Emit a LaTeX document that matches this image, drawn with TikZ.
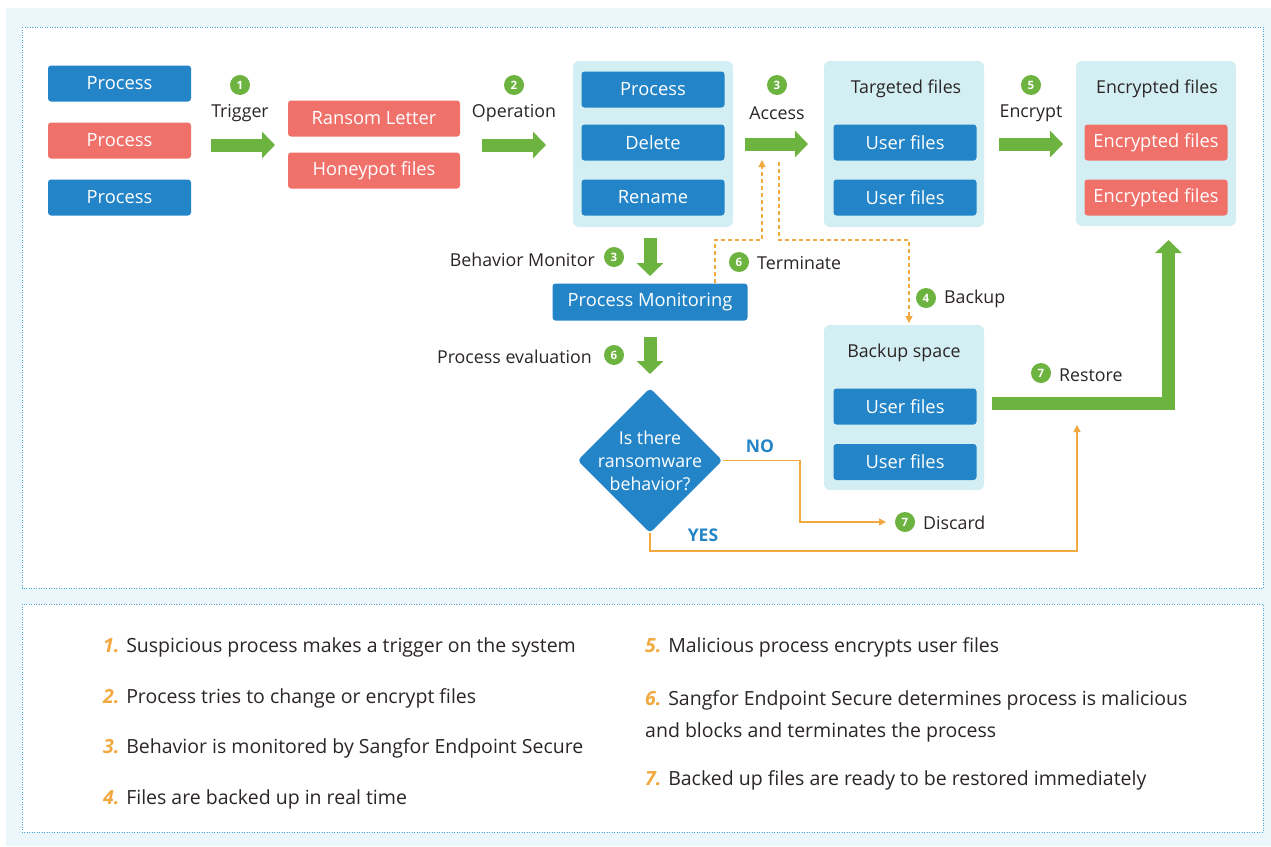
\documentclass[tikz,border=0pt]{standalone}
\usepackage{fontspec}
\setmainfont{Open Sans}
\usetikzlibrary{shapes.geometric,arrows.meta}
\definecolor{bgc}{HTML}{EBF7FA}
\definecolor{dotc}{HTML}{4BA6DD}
\definecolor{bluec}{HTML}{2385C8}
\definecolor{redc}{HTML}{F0706A}
\definecolor{grpc}{HTML}{D3EFF3}
\definecolor{greenc}{HTML}{6DB33F}
\definecolor{orangec}{HTML}{F2A940}
\definecolor{txtc}{HTML}{2B2526}
\newcommand\legn[1]{{\color{orangec}\bfseries\itshape #1}}
\begin{document}
\begin{tikzpicture}[x=1pt,y=-1pt,
 bbox/.style={rounded corners=3pt, minimum width=143pt, minimum height=36pt, inner sep=0pt, text=white, font=\fontsize{18.3}{20}\selectfont},
 bluebox/.style={bbox, fill=bluec},
 redbox/.style={bbox, fill=redc},
 grp/.style={fill=grpc, rounded corners=6pt},
 lbl/.style={text=txtc, font=\fontsize{17.8}{20}\selectfont, inner sep=0pt},
 num/.style={circle, fill=greenc, text=white, inner sep=0pt, minimum size=20pt, font=\fontsize{11.5}{11.5}\bfseries\selectfont},
 fat/.style={draw=greenc, line width=13pt, -{Triangle[width=26pt,length=13pt]}},
 orng/.style={draw=orangec, line width=1.5pt, -{Triangle[width=7pt,length=7pt]}},
 odash/.style={orng, dash pattern=on 4pt off 3pt},
 yn/.style={text=bluec, font=\fontsize{17.5}{20}\bfseries\selectfont, inner sep=0pt},
 leg/.style={text=txtc, font=\fontsize{19.5}{32}\selectfont, inner sep=0pt, align=left},
 panel/.style={fill=white, draw=dotc, line width=1pt, dash pattern=on 1pt off 1.5pt}
]
\useasboundingbox (0,0) rectangle (1271,846);
\fill[white] (0,0) rectangle (1271,846);
\fill[bgc] (6,8) rectangle (1271,846);
\path[panel] (22,27) rectangle (1263,588);
\path[panel] (22,604) rectangle (1263,832);

% column 1
\node[bluebox] (p1) at (119.5,83.5) {Process};
\node[redbox]  (p2) at (119.5,140.5) {Process};
\node[bluebox] (p3) at (119.5,197.5) {Process};

% trigger
\node[num] (n1) at (240,85) {1};
\node[lbl] (ltrig) at (240,113) {Trigger};
\coordinate (a1s) at (211,145); \coordinate (a1e) at (275,145);
\draw[fat] (a1s) -- (a1e);

% ransom
\node[redbox, minimum width=172pt] (rl) at (374,118.5) {Ransom Letter};
\node[redbox, minimum width=172pt] (hp) at (374,170.5) {Honeypot files};

% operation
\node[num] (n2) at (514,85) {2};
\node[lbl] (lop) at (514,113) {Operation};
\coordinate (a2s) at (482,145); \coordinate (a2e) at (546,145);
\draw[fat] (a2s) -- (a2e);

% group operations
\fill[grp] (573,61) rectangle (733,227);
\node[bluebox] (op1) at (653,89.5) {Process};
\node[bluebox] (op2) at (653,142.5) {Delete};
\node[bluebox] (op3) at (653,197.5) {Rename};

% access
\node[num] (n3) at (777,85) {3};
\node[lbl] (lacc) at (777,113) {Access};
\coordinate (a3s) at (745,144); \coordinate (a3e) at (808,144);
\draw[fat] (a3s) -- (a3e);

% targeted
\fill[grp] (824,61) rectangle (984,227);
\node[lbl] (ttl1) at (906,89) {Targeted files};
\node[bluebox] (uf1) at (905,142.5) {User files};
\node[bluebox] (uf2) at (905,197.5) {User files};

% encrypt
\node[num] (n5) at (1031,85) {5};
\node[lbl] (lenc) at (1031,113) {Encrypt};
\coordinate (a4s) at (999,144); \coordinate (a4e) at (1063,144);
\draw[fat] (a4s) -- (a4e);

% encrypted
\fill[grp] (1076,61) rectangle (1236,226);
\node[lbl] (ttl2) at (1157,89) {Encrypted files};
\node[redbox] (ef1) at (1156,142.5) {Encrypted files};
\node[redbox] (ef2) at (1156,197.5) {Encrypted files};

% behavior monitor
\coordinate (bms) at (650,238); \coordinate (bme) at (650,276);
\draw[fat] (bms) -- (bme);
\node[num] (n3b) at (614,257) {3};
\node[lbl, anchor=east] (lbm) at (595,260) {Behavior Monitor};
\node[bluebox, minimum width=195pt, minimum height=37pt] (pm) at (650,302) {Process Monitoring};

% process evaluation
\coordinate (pes) at (650,337); \coordinate (pee) at (650,374);
\draw[fat] (pes) -- (pee);
\node[num] (n6) at (614,355) {6};
\node[lbl, anchor=east] (lpe) at (592,357) {Process evaluation};

% diamond
\node[diamond, fill=bluec, minimum width=145pt, minimum height=145pt, inner sep=0pt, rounded corners=4pt] (dia) at (650,460.5) {};
\node[text=white, align=center, font=\fontsize{17.8}{23}\selectfont, inner sep=0pt] (diat) at (650,461) {Is there\\ransomware\\behavior?};

% terminate (dashed)
\coordinate (t1) at (715,240); \coordinate (t2) at (762,240); \coordinate (t3) at (762,160);
\draw[odash] (pm.north -| t1) -- (t1) -- (t2) -- (t3);
\node[num] (n6b) at (739,262) {6};
\node[lbl, anchor=west] (lterm) at (757,263) {Terminate};

% backup (dashed)
\coordinate (b0) at (779,162); \coordinate (b1) at (779,240); \coordinate (b2) at (909,240);
\fill[grp] (824,325) rectangle (984,490);
\coordinate (b3) at (909,323);
\draw[odash] (b0) -- (b1) -- (b2) -- (b3);
\node[num] (n4) at (926,298) {4};
\node[lbl, anchor=west] (lbk) at (944,299) {Backup};

% backup space
\node[lbl] (ttl3) at (904,353) {Backup space};
\node[bluebox] (bf1) at (905,406.5) {User files};
\node[bluebox] (bf2) at (905,462) {User files};

% restore
\coordinate (r0) at (992,403.5); \coordinate (r1) at (1168.5,403.5); \coordinate (r2) at (1168.5,240);
\draw[fat, line cap=butt] (r0) -- (r1) -- (r2);
\node[num] (n7) at (1041,373) {7};
\node[lbl, anchor=west] (lrs) at (1059,375) {Restore};

% NO branch
\coordinate (no1) at (800,460.5); \coordinate (no2) at (800,522); \coordinate (no3) at (886,522);
\draw[orng] (dia.east) -- (no1) -- (no2) -- (no3);
\node[yn] (lno) at (760,446) {NO};
\node[num] (n7b) at (905,522) {7};
\node[lbl, anchor=west] (ldis) at (923,523) {Discard};

% YES branch
\coordinate (y1) at (650,551); \coordinate (y2) at (1077,551); \coordinate (y3) at (1077,425);
\draw[orng] (dia.south) -- (y1) -- (y2) -- (y3);
\node[yn] (lyes) at (703,535) {YES};

% legend
\node[leg, anchor=west] (g1) at (103,647.5) {\legn{1.} Suspicious process makes a trigger on the system};
\node[leg, anchor=west] (g2) at (103,698.5) {\legn{2.} Process tries to change or encrypt files};
\node[leg, anchor=west] (g3) at (103,748.5) {\legn{3.} Behavior is monitored by Sangfor Endpoint Secure};
\node[leg, anchor=west] (g4) at (103,799.5) {\legn{4.} Files are backed up in real time};
\node[leg, anchor=west] (g5) at (645,647.5) {\legn{5.} Malicious process encrypts user files};
\node[leg, anchor=north west] (g6) at (645,690.5) {\legn{6.} Sangfor Endpoint Secure determines process is malicious\\and blocks and terminates the process};
\node[leg, anchor=west] (g7) at (645,780.5) {\legn{7.} Backed up files are ready to be restored immediately};
\end{tikzpicture}
\end{document}
